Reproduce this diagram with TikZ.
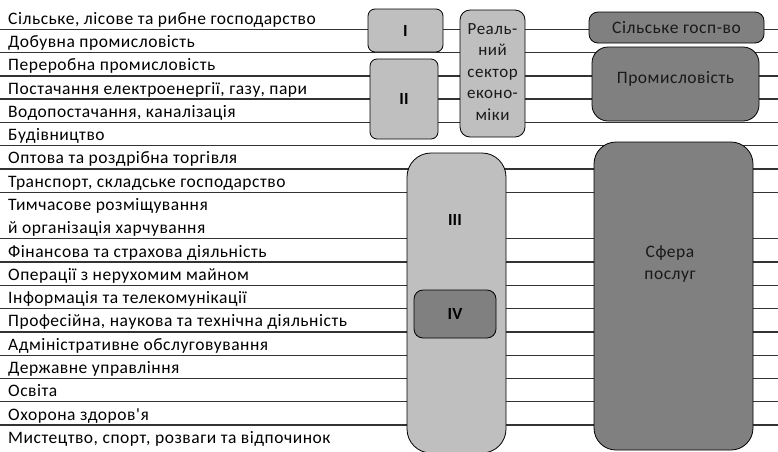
\documentclass[tikz,border=0pt]{standalone}
\usepackage{fontspec}
\setmainfont{Carlito}
\newfontfamily\spacedfont[LetterSpace=3]{Carlito}
\begin{document}
\begin{tikzpicture}[x=1pt,y=-1pt,
  rowtext/.style={anchor=base west, inner sep=0pt, font=\spacedfont\fontsize{17.5}{19}\selectfont, text=black},
  sepline/.style={line width=1.3pt, draw=black!80},
  lightbox/.style={draw=black, line width=0.8pt, fill=black!25, inner sep=0pt, rounded corners=7pt},
  darkbox/.style={draw=black, line width=0.8pt, fill=black!50, inner sep=0pt, rounded corners=9pt},
  boxlabel/.style={font=\fontsize{17}{20}\selectfont\bfseries, text=black},
  boxtext/.style={font=\spacedfont\fontsize{17.5}{21.5}\selectfont, text=black!90, align=center}]
\useasboundingbox (0,0) rectangle (778,451);
\clip (0,0) rectangle (778,451);
% separator lines
\foreach \i in {0,...,7,9,10,...,17}{
  \coordinate (l\i) at (0,{29.3+23.28*\i});
  \coordinate (r\i) at (778,{29.3+23.28*\i});
  \draw[sepline] (l\i) -- (r\i);
}
% row labels
\foreach \i/\t in {0/{Сільське, лісове та рибне господарство},
  1/{Добувна промисловість},
  2/{Переробна промисловість},
  3/{Постачання електроенергії, газу, пари},
  4/{Водопостачання, каналізація},
  5/{Будівництво},
  6/{Оптова та роздрібна торгівля},
  7/{Транспорт, складське господарство},
  8/{Тимчасове розміщування},
  9/{й організація харчування},
  10/{Фінансова та страхова діяльність},
  11/{Операції з нерухомим майном},
  12/{Інформація та телекомунікації},
  13/{Професійна, наукова та технічна діяльність},
  14/{Адміністративне обслуговування},
  15/{Державне управління},
  16/{Освіта},
  17/{Охорона здоров'я},
  18/{Мистецтво, спорт, розваги та відпочинок}}{
  \node[rowtext] (t\i) at (8,{24.3+23.28*\i}) {\t};
}
% boxes
\node[lightbox, minimum width=75pt, minimum height=43pt] (b1) at (405.5,30.5) {};
\node[boxlabel] (b1t) at (b1) {I};
\node[lightbox, minimum width=68pt, minimum height=80pt] (b2) at (404,99) {};
\node[boxlabel] (b2t) at (b2) {II};
\node[lightbox, rounded corners=10pt, minimum width=65pt, minimum height=127pt] (real) at (492.5,73.5) {};
\node[boxtext, font=\spacedfont\fontsize{17}{21.5}\selectfont] (realt) at (492.5,72) {Реаль-\\ний\\сектор\\еконо-\\міки};
\node[darkbox, minimum width=175pt, minimum height=31pt] (agr) at (676.5,27.5) {};
\node[boxtext] (agrt) at (agr) {Сільське госп-во};
\node[darkbox, rounded corners=16pt, minimum width=167pt, minimum height=74pt] (ind) at (675.5,84) {};
\node[boxtext] (indt) at (675.5,79) {Промисловість};
\node[lightbox, rounded corners=24pt, minimum width=99pt, minimum height=300pt] (b3) at (456.5,303) {};
\node[boxlabel] (b3t) at (455,220) {III};
\node[darkbox, minimum width=82pt, minimum height=48pt] (b4) at (455,314) {};
\node[boxlabel] (b4t) at (b4) {IV};
\node[darkbox, rounded corners=22pt, minimum width=159pt, minimum height=308pt] (serv) at (673.5,296) {};
\node[boxtext] (servt) at (670,264) {Сфера\\послуг};
\end{tikzpicture}
\end{document}
